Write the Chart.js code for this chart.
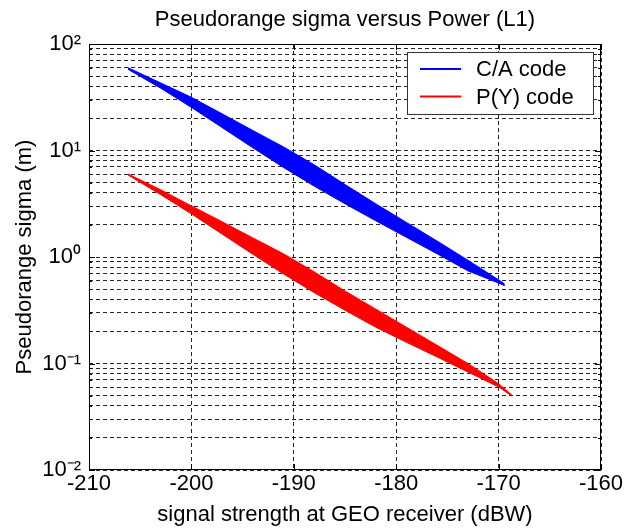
<!DOCTYPE html>
<html>
<head>
<meta charset="utf-8">
<script src="https://cdn.jsdelivr.net/npm/chart.js@4.4.1/dist/chart.umd.min.js"></script>
<style>
  html, body { margin: 0; padding: 0; background: #fff; }
  #wrap { width: 633px; height: 529px; }
</style>
</head>
<body>
<div id="wrap"><canvas id="chart" width="633" height="529"></canvas></div>
<script>
// values (upper and lower edge of each band)
const powerCA = [-206.2, -203, -200, -197, -194, -191, -188, -185, -182, -179, -176, -173, -170, -169.4];
const caUpper = [60.0, 43.1, 31.6, 22.1, 15.4, 10.8, 7.33, 4.79, 3.16, 2.11, 1.41, 0.933, 0.61, 0.556];
const caLower = [57.9, 38.5, 25.4, 16.4, 10.6, 6.92, 4.62, 3.16, 2.19, 1.53, 1.07, 0.741, 0.569, 0.537];

const powerPY = [-206.2, -203, -200, -197, -194, -191, -188, -185, -182, -179, -176, -173, -170, -168.7];
const pyUpper = [6.03, 4.27, 3.02, 2.14, 1.51, 1.07, 0.724, 0.479, 0.324, 0.219, 0.148, 0.1, 0.0646, 0.0505];
const pyLower = [5.89, 3.85, 2.54, 1.64, 1.06, 0.692, 0.462, 0.316, 0.219, 0.158, 0.115, 0.0832, 0.0603, 0.0493];

const seriesNames = ["C/A code", "P(Y) code"];
const seriesColors = ["#0000ff", "#ff0000"];

const xTicks = [-210, -200, -190, -180, -170, -160];
const yDecades = [0.01, 0.1, 1, 10, 100];
const yDecadeLabels = ["10\u207B\u00B2", "10\u207B\u00B9", "10\u2070", "10\u00B9", "10\u00B2"];

const FONT = "'Liberation Sans', Arial, Helvetica, sans-serif";

// all log grid lines: 1..9 x each decade
const yGrid = [];
yDecades.forEach((d, i) => {
  yGrid.push(d);
  if (i < yDecades.length - 1) for (let m = 2; m <= 9; m++) yGrid.push(+(d * m).toPrecision(3));
});

function pts(xs, ys) {
  return xs.map((x, i) => ({ x: x, y: ys[i] }));
}

function band(name, xs, up, lo, color) {
  return [
    { label: name, data: pts(xs, up), borderColor: color, borderWidth: 1, pointRadius: 0, fill: false, tension: 0 },
    { label: name + " lower", data: pts(xs, lo), borderColor: color, borderWidth: 1, pointRadius: 0, fill: "-1", backgroundColor: color, tension: 0 },
  ];
}

// axes box, inward ticks and legend, matlab style
const frame = {
  id: "frame",
  afterLayout(chart) {
    const a = chart.chartArea;
    if (chart.titleBlock) {
      chart.titleBlock.left = a.left;
      chart.titleBlock.right = a.right;
    }
  },
  afterDatasetsDraw(chart) {
    const { ctx, chartArea: a, scales } = chart;
    ctx.save();
    ctx.strokeStyle = "#000";
    ctx.lineWidth = 1;
    ctx.setLineDash([]);
    ctx.strokeRect(a.left + 0.5, a.top + 0.5, a.right - a.left - 1, a.bottom - a.top - 1);
    ctx.beginPath();
    yGrid.forEach((v) => {
      const y = Math.round(scales.y.getPixelForValue(v)) + 0.5;
      const len = yDecades.includes(v) ? 6 : 3;
      ctx.moveTo(a.left, y); ctx.lineTo(a.left + len, y);
      ctx.moveTo(a.right, y); ctx.lineTo(a.right - len, y);
    });
    xTicks.forEach((v) => {
      const x = Math.round(scales.x.getPixelForValue(v)) + 0.5;
      ctx.moveTo(x, a.top); ctx.lineTo(x, a.top + 6);
      ctx.moveTo(x, a.bottom); ctx.lineTo(x, a.bottom - 6);
    });
    ctx.stroke();

    // legend
    const w = 186, h = 62;
    const x0 = a.right - 8 - w, y0 = a.top + 8;
    ctx.fillStyle = "#fff";
    ctx.fillRect(x0, y0, w, h);
    ctx.strokeStyle = "#333";
    ctx.strokeRect(x0 + 0.5, y0 + 0.5, w, h);
    ctx.font = "22px " + FONT;
    ctx.textBaseline = "middle";
    seriesNames.forEach((name, i) => {
      const y = y0 + 17 + i * 27.5;
      ctx.strokeStyle = seriesColors[i];
      ctx.lineWidth = 2;
      ctx.beginPath();
      ctx.moveTo(x0 + 13, y); ctx.lineTo(x0 + 54, y);
      ctx.stroke();
      ctx.fillStyle = "#000";
      ctx.fillText(name, x0 + 69, y + 1);
    });
    ctx.restore();
  },
};

const gridOpts = { color: "rgba(0,0,0,0.85)", lineWidth: 1, drawTicks: false };

new Chart(document.getElementById("chart"), {
  type: "line",
  data: {
    datasets: [
      ...band(seriesNames[0], powerCA, caUpper, caLower, seriesColors[0]),
      ...band(seriesNames[1], powerPY, pyUpper, pyLower, seriesColors[1]),
    ],
  },
  options: {
    responsive: false,
    animation: false,
    devicePixelRatio: 1,
    layout: { padding: { left: 0, right: 32, top: 0, bottom: 0 } },
    plugins: {
      legend: { display: false },
      tooltip: { enabled: false },
      title: {
        display: true,
        text: "Pseudorange sigma versus Power (L1)",
        color: "#000",
        font: { family: FONT, size: 22, weight: "normal" },
        padding: { top: 7, bottom: 10.6 },
      },
    },
    scales: {
      x: {
        type: "linear",
        min: -210,
        max: -160,
        afterBuildTicks: (s) => { s.ticks = xTicks.map((v) => ({ value: v })); },
        afterFit: (s) => { s.height = 59; },
        grid: gridOpts,
        border: { display: false, dash: [4, 3] },
        ticks: { color: "#000", font: { family: FONT, size: 22 }, padding: 1, maxRotation: 0 },
        title: {
          display: true,
          text: "signal strength at GEO receiver (dBW)",
          color: "#000",
          font: { family: FONT, size: 22 },
          padding: { top: 0, bottom: 1 },
        },
      },
      y: {
        type: "logarithmic",
        min: 0.01,
        max: 100,
        afterBuildTicks: (s) => { s.ticks = yGrid.map((v) => ({ value: v })); },
        afterFit: (s) => { s.width = 89; },
        grid: gridOpts,
        border: { display: false, dash: [4, 3] },
        ticks: {
          color: "#000",
          font: { family: FONT, size: 22 },
          padding: 8,
          autoSkip: false,
          callback: (v) => {
            const i = yDecades.indexOf(v);
            return i >= 0 ? yDecadeLabels[i] : "";
          },
        },
        title: {
          display: true,
          text: "Pseudorange sigma (m)",
          color: "#000",
          font: { family: FONT, size: 22 },
          padding: { top: 12, bottom: 0 },
        },
      },
    },
  },
  plugins: [frame],
});
</script>
</body>
</html>
